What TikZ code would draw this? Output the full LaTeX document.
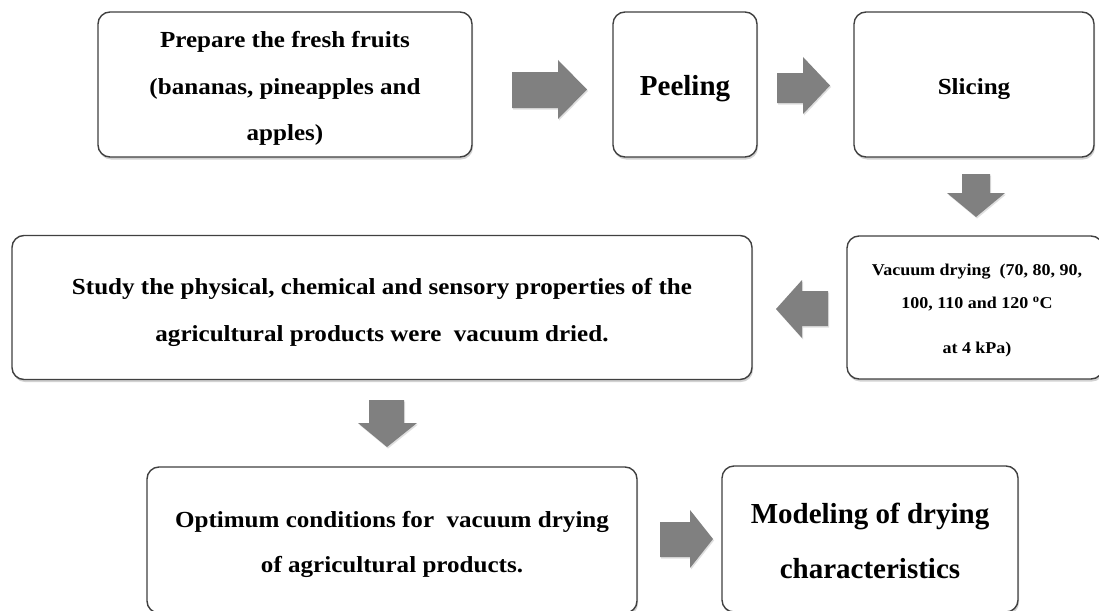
\documentclass[tikz,border=0pt]{standalone}
\usepackage{fontspec}
\setmainfont{Liberation Serif}
\newfontfamily\widefont[FakeStretch=1.09]{Liberation Serif}
\usetikzlibrary{shadows}
\definecolor{arrowgray}{HTML}{808080}
\definecolor{edgegray}{HTML}{404040}
\begin{document}
\begin{tikzpicture}[x=1pt,y=-1pt,
  box/.style={draw=edgegray, line width=1.4pt, rounded corners=12pt, fill=white,
    inner sep=0pt,
    drop shadow={shadow xshift=1pt, shadow yshift=-2.5pt, opacity=0.35}},
  label/.style={inner sep=0pt, align=center, yshift=-4pt},
  blockarrow/.style={fill=arrowgray, draw=none,
    drop shadow={shadow xshift=1pt, shadow yshift=-1.5pt, opacity=0.25}}]
\useasboundingbox (0,0) rectangle (1099,610);
\fill[white] (0,0) rectangle (1099,610);

% boxes
\node[box, minimum width=374pt, minimum height=145pt] (prep) at (285,84.5) {};
\node[box, minimum width=144pt, minimum height=145pt] (peel) at (685,84.5) {};
\node[box, minimum width=240pt, minimum height=145pt] (slice) at (974,84.5) {};
\node[box, minimum width=256pt, minimum height=143pt] (vac) at (975,307.5) {};
\node[box, minimum width=740pt, minimum height=144pt] (study) at (382,307.5) {};
\node[box, minimum width=490pt, minimum height=146pt] (opt) at (392,540) {};
\node[box, minimum width=296pt, minimum height=146pt] (model) at (870,539) {};

% texts
\node[label, font=\widefont\bfseries\fontsize{23}{46.5}\selectfont] (prept) at (prep.center)
  {Prepare the fresh fruits\\(bananas, pineapples and\\apples)};
\node[label, font=\bfseries\fontsize{29}{34}\selectfont] (peelt) at (peel.center) {Peeling};
\node[label, font=\widefont\bfseries\fontsize{23}{34}\selectfont, yshift=-1pt] (slicet) at (slice.center) {Slicing};
\node[label, font=\widefont\bfseries\fontsize{16.5}{33}\selectfont, xshift=2pt, yshift=1pt] (vact) at (vac.center)
  {Vacuum drying\ \ (70, 80, 90,\\100, 110 and 120 \textsuperscript{o}C\\[12pt]at 4 kPa)};
\node[label, font=\widefont\bfseries\fontsize{23}{47}\selectfont, yshift=-1pt] (studyt) at (study.center)
  {Study the physical, chemical and sensory properties of the\\agricultural products were\ \ vacuum dried.};
\node[label, font=\widefont\bfseries\fontsize{23}{45}\selectfont] (optt) at (opt.center)
  {Optimum conditions for\ \ vacuum drying\\of agricultural products.};
\node[label, font=\bfseries\fontsize{29}{55}\selectfont, yshift=2pt] (modelt) at (model.center)
  {Modeling of drying\\characteristics};

% block arrows
\fill[blockarrow] (512,72) -- (558,72) -- (558,60) -- (587,89.5) -- (558,119) -- (558,108) -- (512,108) -- cycle;
\fill[blockarrow] (777,73) -- (803,73) -- (803,57) -- (830,85.5) -- (803,114) -- (803,103) -- (777,103) -- cycle;
\fill[blockarrow] (962,174) -- (990,174) -- (990,193) -- (1005,193) -- (976,217) -- (947,193) -- (962,193) -- cycle;
\fill[blockarrow] (828,291) -- (802,291) -- (802,280) -- (776,309) -- (802,338) -- (802,326) -- (828,326) -- cycle;
\fill[blockarrow] (369,400) -- (404,400) -- (404,423) -- (417,423) -- (387,447) -- (358,423) -- (369,423) -- cycle;
\fill[blockarrow] (660,522) -- (690,522) -- (690,510) -- (713,539) -- (690,568) -- (690,557) -- (660,557) -- cycle;
\end{tikzpicture}
\end{document}
